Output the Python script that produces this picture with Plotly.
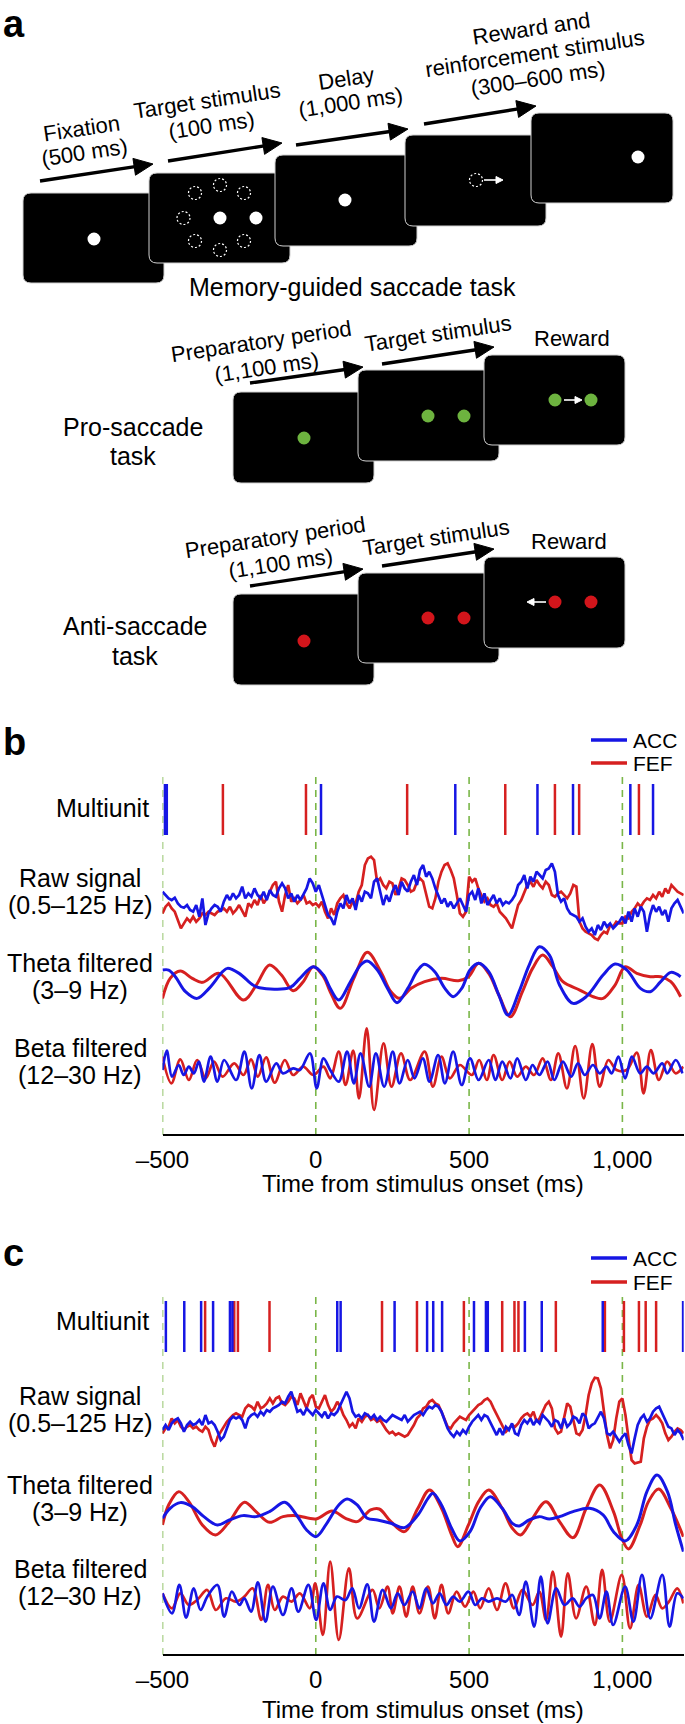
import numpy as np
import plotly.graph_objects as go

W, H = 685, 1724

# ------------------------------------------------------------------ data
EVENT_TIMES = [-500, 0, 500, 1000]
TICK_VALS = [-500, 0, 500, 1000]
TICK_TEXT = ["–500", "0", "500", "1,000"]
SERIES_NAMES = ["ACC", "FEF"]
X_TITLE = "Time from stimulus onset (ms)"

# ---- panel b
B_SPIKES_ACC = [-492, -489, -486, 17, 455, 723, 839, 1026, 1100]
B_SPIKES_FEF = [-303, -32, 298, 618, 780, 859, 1054]

T_RAW = np.arange(-500, 1201, 10)
B_RAW_ACC = [30, 20, 10, 5, 12, -5, -15, -18, -10, -25,
             -30, -10, -45, 10, -70, -35, -20, -10, -15, -30,
             0, 20, 5, 25, 10, 20, 45, 10, 25, 15,
             40, 20, 10, 30, 5, 35, 20, 15, 40, 55,
             40, 10, 25, 0, 20, 5, 25, 40, 70, 55,
             30, 50, 20, -10, -40, -50, -70, -30, -5, -20,
             20, -5, 10, -25, 20, 0, 30, 25, 10, 60,
             70, 30, -10, 20, 0, 30, 50, 20, 60, 40,
             30, 60, 80, 50, 95, 110, 75, 90, 70, 40,
             20, -5, 10, -15, 0, -20, -5, 10, -10, -30,
             20, 30, 5, 40, -5, 25, -10, 5, 20, -5,
             10, -10, 0, -5, 5, 20, 50, 60, 80, 40,
             75, 60, 90, 80, 70, 95, 100, 115, 90, 20,
             0, 10, -20, -35, -40, -45, -60, -50, -75, -90,
             -80, -100, -70, -85, -60, -75, -65, -80, -70, -60,
             -45, -65, -30, -60, -20, -45, -15, -30, -90, -40,
             -10, -30, -15, -40, -25, -60, -20, -5, 5, -15, -35]
B_RAW_FEF = [-35, -15, -5, -20, -30, -55, -80, -65, -50, -60,
             -45, -60, -50, -35, -40, -30, -35, -40, -30, -25,
             -20, -30, -15, -35, -25, -10, -30, -45, -5, -15,
             5, -10, 20, -5, 10, 30, 50, 60, 0, -30,
             20, 50, 0, 10, -5, 5, 20, -5, 0, -10,
             -5, -15, 0, -30, -50, -20, -40, -5, 10, 20,
             -5, -20, 0, -5, 30, 50, 110, 130, 135, 125,
             60, 70, 50, 40, 60, 55, 20, 40, 70, 65,
             50, 30, 35, 60, 70, 60, 20, -15, -20, 10,
             60, 90, 110, 115, 95, 70, 20, -35, -45, -30,
             75, 60, 70, 40, 20, 0, 10, -10, -15, -5,
             -30, -40, -50, -65, -80, -45, -10, 5, 30, 50,
             60, 45, 65, 50, 40, 60, 50, 20, 15, 25,
             30, 20, 10, 25, 50, 45, -60, -80, -90, -95,
             -100, -110, -115, -100, -90, -95, -70, -75, -60, -65,
             -65, -45, -50, -30, -20, -5, -15, 0, 10, 5,
             20, 10, 30, 15, 40, 25, 50, 40, 30, 25, 20]

B_THETA_ACC_T = [-500, -480, -458, -425, -387, -348, -304, -288, -250, -205, -184, -85, -52, -8,
                 25, 47, 75, 113, 146, 168, 201, 234, 265, 300, 333, 355, 388, 421, 448, 476,
                 503, 531, 564, 597, 627, 663, 696, 729, 762, 795, 839, 882, 937, 976, 1015,
                 1059, 1091, 1125, 1158, 1190]
B_THETA_ACC = [35, 35, 15, -30, -50, -20, 30, 40, 25, -10, -18, -18, 10, 45,
               20, -20, -55, 0, 50, 62, 35, -20, -63, -20, 35, 52, 30, -20, -45, -20,
               35, 55, 30, -40, -100, -30, 50, 105, 80, -10, -65, -45, 20, 53, 35,
               -20, -30, 0, 28, 15]
B_THETA_FEF_T = [-500, -475, -442, -403, -370, -315, -236, -194, -151, -112, -74, -41, -8, 25,
                 47, 80, 124, 168, 212, 245, 273, 311, 355, 410, 465, 498, 531, 564, 597,
                 635, 674, 707, 740, 773, 806, 861, 905, 937, 976, 1009, 1047, 1091, 1125,
                 1158, 1190]
B_THETA_FEF = [-50, 10, 32, 10, -2, 25, -55, -10, 50, 20, -27, 0, 45, 15,
               -30, -80, 10, 88, 30, -30, -50, -20, 0, 10, 3, 15, 55, 25, -40,
               -105, -30, 40, 80, 45, 0, -25, -45, -50, -10, 45, 25, 15, 15,
               0, -45]

B_BETA_ACC_T = [-500, -486, -469, -447, -431, -414, -398, -381, -365, -343,
                -321, -299, -260, -233, -209, -184, -162, -129, -107, -74,
                -52, -19, 3, 25, 47, 75, 102, 124, 146, 174,
                196, 223, 251, 273, 300, 322, 349, 371, 399, 421,
                448, 476, 503, 531, 564, 586, 608, 635, 657, 685,
                707, 729, 756, 778, 806, 833, 855, 877, 904, 926,
                948, 965, 987, 1009, 1031, 1058, 1080, 1102, 1130, 1146,
                1174, 1196]
B_BETA_ACC = [0, 58, -20, 15, -15, 10, -10, 25, -35, 40,
              -35, 30, -30, 55, -55, 45, -35, 20, -10, 5,
              0, 50, -55, 35, 0, -35, 55, -40, 50, -50,
              50, -50, 55, -40, 30, -25, 35, -35, 45, -40,
              55, -45, 35, -30, 30, -30, 25, -25, 35, -30,
              15, -15, 25, -30, 25, -20, 20, -15, 15, -10,
              10, -10, 40, -25, 40, -10, 10, -10, 20, -10,
              30, -10]
B_BETA_FEF_T = [-500, -471, -442, -414, -387, -359, -332, -304, -266, -236,
                -211, -189, -162, -134, -101, -74, -41, -8, 25, 47,
                75, 97, 122, 141, 166, 190, 221, 247, 278, 308,
                355, 382, 410, 437, 470, 509, 533, 558, 580, 608,
                632, 657, 685, 712, 740, 767, 791, 819, 846, 874,
                902, 926, 954, 981, 1014, 1047, 1069, 1093, 1119, 1146,
                1174, 1199]
B_BETA_FEF = [40, -40, 32, -30, 30, -25, 25, -20, 20, -15,
              32, -20, 38, -38, 30, -15, 10, -15, 10, -25,
              55, -45, 58, -85, 125, -120, 80, -50, 50, -30,
              55, -50, 40, -25, 15, -15, 30, -30, 45, -30,
              25, -20, 10, -15, 35, -30, 50, -55, 72, -85,
              78, -50, 30, 0, 0, 52, -70, 60, -30, 25,
              -10, 10]

# ---- panel c
C_SPIKES_ACC = [-489, -429, -374, -335, -280, -272, 70, 81, 257, 363, 383, 412,
                516, 555, 561, 682, 737, 936, 1198]
C_SPIKES_FEF = [-361, -266, -254, -151, 216, 330, 483, 608, 648, 661, 783, 943,
                1005, 1054, 1076, 1110]

C_RAW_ACC = [-25, -10, -25, -5, 5, 10, -5, -30, -10, 0,
             -10, -5, 5, -10, 20, -5, 0, -10, -30, -55,
             -45, -20, 5, 15, 10, 15, 5, -20, 10, 20,
             25, 15, 30, 20, 35, 30, 40, 45, 50, 60,
             55, 75, 90, 60, 30, 35, 20, 40, 30, 20,
             35, 25, 15, 30, 10, 25, 20, 30, 50, 75,
             90, 70, 30, 15, 20, 10, 25, 20, 10, 20,
             5, 15, 5, 0, 10, 20, 15, 10, 5, 20,
             0, 10, 20, 25, 30, 20, 35, 45, 40, 50,
             45, 30, 5, -20, -35, -45, -30, -40, -25, -35,
             -15, 0, 10, 20, 5, 20, 15, -5, -25, -40,
             -20, -40, -15, -25, -5, -35, -40, -10, 5, -5,
             10, -10, 5, -5, 20, 10, 0, -15, 5, 0,
             -20, 10, -15, -5, 15, 10, -5, 25, 15, -20,
             -10, -5, 15, 30, 10, -35, -40, -30, -45, -60,
             -45, -35, -70, -95, -50, -10, 10, 20, 0, 10,
             30, 40, 45, 25, 0, -15, -20, -40, -25, -35, -55]
C_RAW_FEF = [-35, -20, -15, 10, -5, 5, -15, -25, -15, -10,
             -20, -15, -25, -30, -15, -25, -55, -75, -45, -30,
             -15, 0, 10, 20, 25, 20, 15, 40, 50, 45,
             35, 60, 40, 45, 55, 70, 55, 70, 75, 55,
             50, 60, 75, 70, 50, 85, 65, 40, 70, 80,
             45, 40, 60, 80, 50, 30, 40, 60, 45, 20,
             5, -15, -5, -20, 10, 0, 15, 20, 5, 10,
             0, 5, -10, -25, -35, -30, -40, -35, -40, -45,
             -40, -25, -10, 10, 20, 40, 45, 60, 65, 55,
             50, 30, 5, -15, -20, -5, 5, 15, 10, 5,
             20, 30, 40, 50, 55, 65, 70, 60, 40, 20,
             0, -15, -30, -20, -10, -15, -5, 10, 20, 25,
             15, 30, 0, 10, 30, 50, 60, 40, -20, -35,
             -30, 10, 55, 45, 0, -35, -40, -25, 20, 80,
             115, 132, 130, 100, 30, -40, -80, -55, 10, 60,
             70, 20, -50, -115, -125, -122, -120, -50, -15, 5,
             10, 20, 10, -5, -35, -55, -45, -30, -20, -25, -35]

C_THETA_ACC_T = [-500, -475, -442, -403, -365, -321, -282, -238, -195, -151, -101, -63, -30, 1,
                 36, 75, 102, 135, 168, 201, 245, 289, 333, 366, 382, 410, 443, 470, 503,
                 536, 569, 608, 641, 663, 696, 729, 762, 795, 839, 893, 937, 971, 1009,
                 1047, 1080, 1113, 1147, 1174, 1199]
C_THETA_ACC = [0, 30, 47, 35, 5, -20, -5, 8, 5, 20, 48, 10, -35, -55,
               -15, 40, 58, 40, 0, -5, -15, -28, 10, 60, 75, 40, -30, -68, -40,
               30, 65, 30, -15, -23, -5, 5, -2, 5, 20, 30, 10, -40, -68,
               -20, 80, 130, 80, -20, -100]
C_THETA_FEF_T = [-500, -480, -447, -414, -370, -327, -282, -233, -195, -151, -107, -63, 1,
                 53, 97, 135, 179, 207, 245, 289, 333, 371, 410, 443, 463, 498, 531, 564,
                 608, 641, 668, 707, 751, 795, 839, 882, 926, 971, 998, 1020, 1058, 1085,
                 1118, 1158, 1199]
C_THETA_FEF = [-20, 40, 80, 50, -20, -50, -10, 48, 20, -12, 5, 8, -2,
               22, 0, -10, 25, 28, -10, -40, 30, 85, 30, -50, -85, -20, 50, 85,
               30, -30, -50, 0, 50, -10, -58, 30, 100, 20, -60, -92, -20, 50,
               88, 30, -55]

C_BETA_ACC_T = [-500, -469, -445, -423, -398, -376, -354, -321, -299, -274,
                -249, -233, -211, -189, -164, -140, -107, -79, -57, -24,
                1, 25, 47, 69, 97, 119, 141, 168, 190, 218,
                245, 267, 289, 316, 338, 360, 382, 404, 426, 448,
                470, 498, 520, 542, 564, 591, 619, 641, 663, 685,
                712, 734, 756, 784, 811, 838, 860, 882, 904, 926,
                948, 970, 1009, 1036, 1064, 1091, 1130, 1154, 1179, 1199]
C_BETA_ACC = [15, -45, 40, -58, 30, -35, 5, 40, -55, 20,
              -20, 0, -40, 48, -70, 35, -50, 30, -40, 40,
              -65, 45, -35, 5, -5, 30, -30, 42, -70, 25,
              -30, 15, -20, 20, -30, 30, -15, 15, -20, 5,
              -10, 20, -20, 0, -10, 0, -10, 10, -50, 50,
              -85, 65, -75, 30, -20, 0, -25, 0, 10, -60,
              20, -80, 35, -70, 70, -60, 70, -85, 15, 0]
C_BETA_FEF_T = [-500, -469, -442, -414, -387, -354, -326, -293, -260, -233,
                -206, -178, -156, -134, -107, -79, -52, -19, -2, 23,
                47, 75, 108, 135, 185, 207, 234, 251, 273, 295,
                316, 338, 366, 388, 410, 432, 459, 487, 514, 536,
                564, 591, 619, 646, 674, 707, 729, 751, 773, 800,
                822, 849, 882, 910, 934, 959, 998, 1025, 1053, 1080,
                1108, 1130, 1152, 1179, 1199]
C_BETA_FEF = [15, -30, 15, -20, -5, 25, -35, 0, -10, 5,
              30, -65, 40, -35, 5, -10, 15, -30, 45, -110,
              110, -125, 90, -60, 25, -30, 35, -45, 35, -55,
              35, -45, 35, -60, 40, -45, 20, -25, 20, -30,
              30, -35, 45, -30, 25, -20, 20, -65, 80, -115,
              75, -60, 35, -80, 85, -70, 70, -90, 40, -55,
              10, -30, -10, 30, -15]

# ------------------------------------------------------------------ style
BLUE = "#1616e4"
RED = "#d62020"
GREEN = "#7ab648"
DOT_GREEN = "#6db33f"
DOT_RED = "#d2151b"
FONT = "Liberation Sans, Arial, Helvetica, sans-serif"


def py(p):
    return 1 - p / H


fig = go.Figure()

PIX = dict(xref="x3", yref="y9")

X_DOMAIN = [162.5 / W, 683.7 / W]
panels = [
    dict(xa="x", xname="xaxis", ys=["y", "y2", "y3", "y4"], axis_px=1135, dash_top=773, title_px=1183,
         spikes=(784, 835), raw=(840, 970, 901.7), theta=(930, 1030, 981.7), beta=(1020, 1120, 1070),
         sp_acc=B_SPIKES_ACC, sp_fef=B_SPIKES_FEF, raw_acc=B_RAW_ACC, raw_fef=B_RAW_FEF,
         th=(B_THETA_ACC_T, B_THETA_ACC, B_THETA_FEF_T, B_THETA_FEF),
         be=(B_BETA_ACC_T, B_BETA_ACC, B_BETA_FEF_T, B_BETA_FEF),
         legend_y=(740, 763), letter=("b", 742), multi_y=808,
         labels=[(("Raw signal", "(0.5–125 Hz)"), 891), (("Theta filtered", "(3–9 Hz)"), 976.5),
                 (("Beta filtered", "(12–30 Hz)"), 1061)]),
    dict(xa="x2", xname="xaxis2", ys=["y5", "y6", "y7", "y8"], axis_px=1655, dash_top=1292, title_px=1709,
         spikes=(1301, 1352), raw=(1360, 1480, 1421.7), theta=(1465, 1570, 1518.3), beta=(1550, 1650, 1598.3),
         sp_acc=C_SPIKES_ACC, sp_fef=C_SPIKES_FEF, raw_acc=C_RAW_ACC, raw_fef=C_RAW_FEF,
         th=(C_THETA_ACC_T, C_THETA_ACC, C_THETA_FEF_T, C_THETA_FEF),
         be=(C_BETA_ACC_T, C_BETA_ACC, C_BETA_FEF_T, C_BETA_FEF),
         legend_y=(1258, 1282), letter=("c", 1253), multi_y=1321,
         labels=[(("Raw signal", "(0.5–125 Hz)"), 1409), (("Theta filtered", "(3–9 Hz)"), 1498.5),
                 (("Beta filtered", "(12–30 Hz)"), 1582.5)]),
]


def yname(ref):
    return "yaxis" if ref == "y" else "yaxis" + ref[1:]


def row_axis(top, bottom, center, xa, upp=3.0):
    return dict(domain=[py(bottom), py(top)], range=[(center - bottom) * upp, (center - top) * upp],
                visible=False, fixedrange=True, anchor=xa, showgrid=False, zeroline=False, automargin=False)


layout_axes = {}
shapes = []
annotations = []


def text(txt, x, y, size=25, xanchor="center", ang=0, bold=False):
    annotations.append(dict(**PIX, x=x, y=y, text=("<b>%s</b>" % txt) if bold else txt, showarrow=False,
                            textangle=ang, xanchor=xanchor, yanchor="middle", align="center",
                            font=dict(size=size, color="black", family=FONT)))


for P in panels:
    xa = P["xa"]
    ysp, yraw, yth, ybe = P["ys"]
    for times, col, nm in ((P["sp_fef"], RED, "FEF"), (P["sp_acc"], BLUE, "ACC")):
        xs, ys = [], []
        for t in times:
            xs += [t, t, None]
            ys += [0, 1, None]
        fig.add_trace(go.Scatter(x=xs, y=ys, mode="lines", line=dict(color=col, width=2.5),
                                 xaxis=xa, yaxis=ysp, showlegend=False, name=nm, hoverinfo="skip"))
    layout_axes[yname(ysp)] = dict(domain=[py(P["spikes"][1]), py(P["spikes"][0])], range=[0, 1],
                                   visible=False, fixedrange=True, anchor=xa, automargin=False)
    fig.add_trace(go.Scatter(x=T_RAW, y=P["raw_fef"], mode="lines", line=dict(color=RED, width=2.7),
                             xaxis=xa, yaxis=yraw, showlegend=False, name="FEF"))
    fig.add_trace(go.Scatter(x=T_RAW, y=P["raw_acc"], mode="lines", line=dict(color=BLUE, width=2.7),
                             xaxis=xa, yaxis=yraw, showlegend=False, name="ACC"))
    layout_axes[yname(yraw)] = row_axis(*P["raw"], xa)
    ta, va, tf, vf = P["th"]
    fig.add_trace(go.Scatter(x=tf, y=vf, mode="lines", line=dict(color=RED, width=3, shape="spline", smoothing=1.0),
                             xaxis=xa, yaxis=yth, showlegend=False, name="FEF"))
    fig.add_trace(go.Scatter(x=ta, y=va, mode="lines", line=dict(color=BLUE, width=3, shape="spline", smoothing=1.0),
                             xaxis=xa, yaxis=yth, showlegend=False, name="ACC"))
    layout_axes[yname(yth)] = row_axis(*P["theta"], xa)
    ta, va, tf, vf = P["be"]
    fig.add_trace(go.Scatter(x=tf, y=vf, mode="lines", line=dict(color=RED, width=2.7, shape="spline", smoothing=1.0),
                             xaxis=xa, yaxis=ybe, showlegend=False, name="FEF"))
    fig.add_trace(go.Scatter(x=ta, y=va, mode="lines", line=dict(color=BLUE, width=2.7, shape="spline", smoothing=1.0),
                             xaxis=xa, yaxis=ybe, showlegend=False, name="ACC"))
    layout_axes[yname(ybe)] = row_axis(*P["beta"], xa)

    layout_axes[P["xname"]] = dict(
        domain=X_DOMAIN, range=[-500, 1200], anchor="free", position=py(P["axis_px"]),
        showline=True, linecolor="black", linewidth=2, ticks="", tickvals=TICK_VALS, ticktext=TICK_TEXT,
        tickfont=dict(size=24, color="black", family=FONT), ticklabelstandoff=3, automargin=False,
        showgrid=False, zeroline=False, fixedrange=True)
    text(X_TITLE, (X_DOMAIN[0] + X_DOMAIN[1]) / 2 * W, P["title_px"], size=24)

    for t in EVENT_TIMES:
        shapes.append(dict(type="line", xref=xa, yref="paper", x0=t, x1=t, y0=py(P["axis_px"]), y1=py(P["dash_top"]),
                           line=dict(color=GREEN, width=1.6, dash="7px,6px"), layer="below"))

    for (nm, col), yy in zip(((SERIES_NAMES[0], BLUE), (SERIES_NAMES[1], RED)), P["legend_y"]):
        shapes.append(dict(type="line", **PIX, x0=591, x1=627, y0=yy, y1=yy, line=dict(color=col, width=3.5)))
        text(nm, 631, yy, size=21, xanchor="left")
    text(P["letter"][0], 1, P["letter"][1], size=38, xanchor="left", bold=True)
    text("Multiunit", 151, P["multi_y"], size=25, xanchor="right")
    for (l1, l2), yc in P["labels"]:
        text(l1, 80, yc - 13.5, size=25)
        text(l2, 80, yc + 13.5, size=25)


def rrect(x0, y0, x1, y1, r=8):
    return (f"M{x0 + r},{y0} L{x1 - r},{y0} Q{x1},{y0} {x1},{y0 + r} L{x1},{y1 - r} Q{x1},{y1} {x1 - r},{y1} "
            f"L{x0 + r},{y1} Q{x0},{y1} {x0},{y1 - r} L{x0},{y0 + r} Q{x0},{y0} {x0 + r},{y0} Z")


def screen(x0, y0, x1, y1):
    shapes.append(dict(type="path", **PIX, path=rrect(x0, y0, x1, y1), fillcolor="black",
                       line=dict(color="#d0d0d0", width=1)))


def dot(cx, cy, col, r=6.5):
    shapes.append(dict(type="circle", **PIX, x0=cx - r, x1=cx + r, y0=cy - r, y1=cy + r, fillcolor=col,
                       line=dict(width=0)))


def ring(cx, cy, r=6.5):
    shapes.append(dict(type="circle", **PIX, x0=cx - r, x1=cx + r, y0=cy - r, y1=cy + r,
                       line=dict(color="white", width=1.2, dash="2px,2px")))


def arrow(x0, y0, x1, y1, col="black", lw=3.4, hl=19, hw=17):
    dx, dy = x1 - x0, y1 - y0
    n = (dx ** 2 + dy ** 2) ** 0.5
    ux, uy = dx / n, dy / n
    bx, by = x1 - hl * ux, y1 - hl * uy
    shapes.append(dict(type="line", **PIX, x0=x0, y0=y0, x1=bx + ux, y1=by + uy, line=dict(color=col, width=lw)))
    nx, ny = -uy, ux
    p = (f"M{x1},{y1} L{bx + nx * hw / 2},{by + ny * hw / 2} L{bx - nx * hw / 2},{by - ny * hw / 2} Z")
    shapes.append(dict(type="path", **PIX, path=p, fillcolor=col, line=dict(color=col, width=1)))


ANG = -8.5
RS = 22  # rotated label size

# memory-guided saccade task
screen(23, 193, 164, 283)
dot(94, 239, "white")
screen(149, 173, 290, 263)
for cx, cy in [(183.5, 218), (220, 185), (220, 250), (195, 193), (244, 193), (195, 241), (244, 241)]:
    ring(cx, cy)
dot(220, 218, "white")
dot(256, 218, "white")
screen(275, 155, 417, 246)
dot(345, 200, "white")
screen(405, 135, 546, 226)
ring(476, 180)
arrow(484, 180, 503, 180, col="white", lw=1.6, hl=7, hw=7)
screen(531, 113, 673, 203)
dot(638, 157, "white")
arrow(40, 181, 153, 164)
arrow(168, 161, 282, 143)
arrow(296, 145, 408, 129)
arrow(424, 124, 536, 106)
text("Fixation", 81, 128, RS, ang=ANG)
text("(500 ms)", 84, 152, RS, ang=ANG)
text("Target stimulus", 207, 100, RS, ang=ANG)
text("(100 ms)", 211, 125, RS, ang=ANG)
text("Delay", 346, 78, RS, ang=ANG)
text("(1,000 ms)", 350, 102, RS, ang=ANG)
text("Reward and", 531, 28, RS, ang=ANG)
text("reinforcement stimulus", 534, 53, RS, ang=ANG)
text("(300–600 ms)", 538, 78, RS, ang=ANG)
text("Memory-guided saccade task", 352, 287, 25)

# pro-saccade task
screen(233, 392, 374, 483)
dot(304, 438, DOT_GREEN)
screen(358, 370, 499, 461)
dot(428, 416, DOT_GREEN)
dot(464, 416, DOT_GREEN)
screen(484, 355, 625, 445)
dot(555, 400, DOT_GREEN)
dot(591, 400, DOT_GREEN)
arrow(564, 400, 582, 400, col="white", lw=1.6, hl=7, hw=7)
arrow(250, 383, 363, 367)
arrow(382, 364, 494, 347)
text("Preparatory period", 261, 341, RS, ang=ANG)
text("(1,100 ms)", 266, 367, RS, ang=ANG)
text("Target stimulus", 438, 333, RS, ang=ANG)
text("Reward", 572, 338, RS)
text("Pro-saccade", 133, 427, 25)
text("task", 133, 456, 25)

# anti-saccade task
screen(233, 594, 374, 685)
dot(304, 641, DOT_RED)
screen(358, 573, 499, 663)
dot(428, 618, DOT_RED)
dot(464, 618, DOT_RED)
screen(484, 557, 625, 648)
dot(555, 602, DOT_RED)
dot(591, 602, DOT_RED)
arrow(546, 602, 527, 602, col="white", lw=1.6, hl=7, hw=7)
arrow(250, 586, 363, 569)
arrow(382, 566, 494, 549)
text("Preparatory period", 275, 537, RS, ang=ANG)
text("(1,100 ms)", 280, 563, RS, ang=ANG)
text("Target stimulus", 436, 537, RS, ang=ANG)
text("Reward", 569, 541, RS)
text("Anti-saccade", 135, 626, 25)
text("task", 135, 656, 25)

text("a", 1, 24, 38, xanchor="left", bold=True)

layout_axes["xaxis3"] = dict(domain=[0, 1], range=[0, W], visible=False, fixedrange=True, anchor="y9",
                             automargin=False)
layout_axes["yaxis9"] = dict(domain=[0, 1], range=[H, 0], visible=False, fixedrange=True, anchor="x3",
                             automargin=False)

fig.update_layout(
    template="none",
    width=W, height=H, autosize=False,
    margin=dict(l=0, r=0, t=0, b=0, pad=0, autoexpand=False),
    paper_bgcolor="white", plot_bgcolor="rgba(0,0,0,0)",
    showlegend=False, shapes=shapes, annotations=annotations,
    font=dict(family=FONT, color="black"),
    **layout_axes,
)

fig.write_html("out.html", config={"displayModeBar": False, "staticPlot": True},
               post_script="document.body.style.margin='0px';")
